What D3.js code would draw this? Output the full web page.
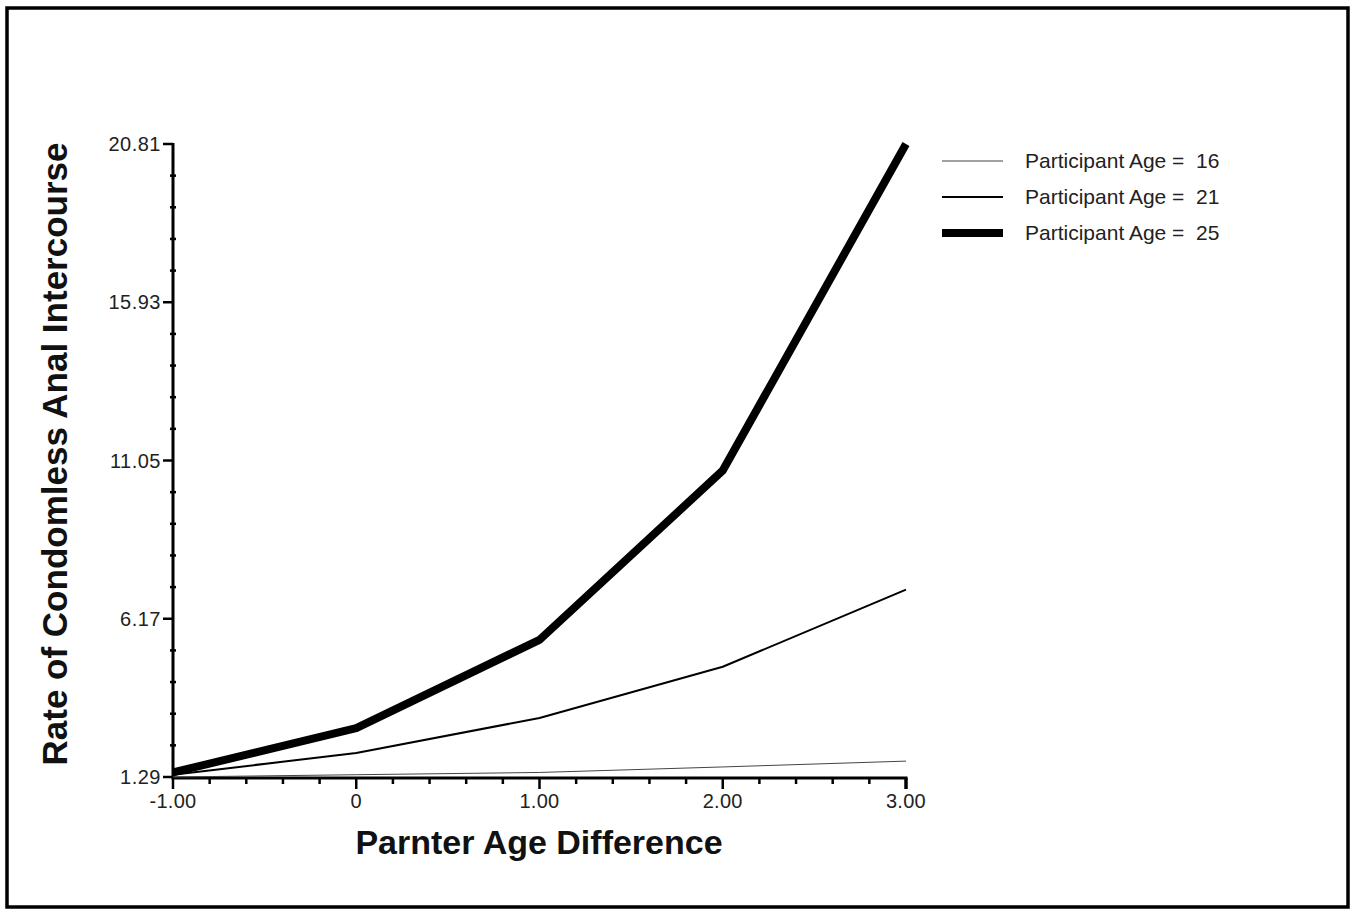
<!DOCTYPE html>
<html>
<head>
<meta charset="utf-8">
<script src="https://cdn.jsdelivr.net/npm/d3@7"></script>
<style>
  html, body { margin: 0; padding: 0; background: #fff; }
  svg { display: block; font-family: "Liberation Sans", Arial, sans-serif; }
</style>
</head>
<body>
<div id="chart"></div>
<script>
"use strict";

// partner age difference (x values)
const ageDiff = [-1, 0, 1, 2, 3];

// predicted rate of condomless anal intercourse for each participant age
const age16 = [1.29, 1.36, 1.43, 1.60, 1.78];
const age21 = [1.36, 2.03, 3.11, 4.69, 7.07];
const age25 = [1.43, 2.80, 5.52, 10.74, 20.81];

const seriesNames = ["Participant Age =  16", "Participant Age =  21", "Participant Age =  25"];
const seriesValues = [age16, age21, age25];
const seriesWidths = [1, 2, 8];
const seriesColors = ["#444", "#000", "#000"];

const yTicks = [1.29, 6.17, 11.05, 15.93, 20.81];
const xTicks = [-1, 0, 1, 2, 3];

const W = 1355;
const H = 910;

const margin = { left: 173, right: 906, top: 144, bottom: 777 };

const svg = d3
  .select("#chart")
  .append("svg")
  .attr("width", W)
  .attr("height", H);

// outer frame
svg
  .append("rect")
  .attr("x", 7)
  .attr("y", 8)
  .attr("width", 1341)
  .attr("height", 899)
  .attr("fill", "none")
  .attr("stroke", "#000")
  .attr("stroke-width", 3.5);

const xScale = d3.scaleLinear().domain([-1, 3]).range([margin.left, margin.right]);
const yScale = d3.scaleLinear().domain([1.29, 20.81]).range([margin.bottom, margin.top]);

// minor ticks: 4 between each pair of majors
function minorTicks(majors) {
  let out = [];
  for (let i = 0; i < majors.length - 1; i++) {
    let step = (majors[i + 1] - majors[i]) / 5;
    for (let k = 1; k < 5; k++) out.push(majors[i] + step * k);
  }
  return out;
}

// y axis
const yAxis = svg.append("g").attr("transform", `translate(${margin.left},0)`);
yAxis
  .append("line")
  .attr("x1", 0)
  .attr("x2", 0)
  .attr("y1", yScale(20.81) - 1)
  .attr("y2", yScale(1.29) + 1.5)
  .attr("stroke", "#000")
  .attr("stroke-width", 3);
yAxis
  .selectAll(".ymajor")
  .data(yTicks)
  .enter()
  .append("line")
  .attr("x1", -10)
  .attr("x2", 0)
  .attr("y1", (d) => yScale(d))
  .attr("y2", (d) => yScale(d))
  .attr("stroke", "#000")
  .attr("stroke-width", 2.5);
yAxis
  .selectAll(".yminor")
  .data(minorTicks(yTicks))
  .enter()
  .append("line")
  .attr("x1", -3)
  .attr("x2", 3)
  .attr("y1", (d) => yScale(d))
  .attr("y2", (d) => yScale(d))
  .attr("stroke", "#000")
  .attr("stroke-width", 2.5);
yAxis
  .selectAll("text")
  .data(yTicks)
  .enter()
  .append("text")
  .attr("x", -12)
  .attr("y", (d) => yScale(d))
  .attr("dy", "0.35em")
  .attr("text-anchor", "end")
  .attr("font-size", 20)
  .attr("letter-spacing", 0.5)
  .attr("fill", "#222")
  .text((d) => d.toFixed(2));

// x axis
const xAxis = svg.append("g").attr("transform", `translate(0,${margin.bottom + 1})`);
xAxis
  .append("line")
  .attr("x1", xScale(-1) - 1.5)
  .attr("x2", xScale(3) + 1.5)
  .attr("y1", 0)
  .attr("y2", 0)
  .attr("stroke", "#000")
  .attr("stroke-width", 3);
xAxis
  .selectAll(".xmajor")
  .data(xTicks)
  .enter()
  .append("line")
  .attr("x1", (d) => xScale(d))
  .attr("x2", (d) => xScale(d))
  .attr("y1", 0)
  .attr("y2", 11)
  .attr("stroke", "#000")
  .attr("stroke-width", (d) => (d === 3 ? 3.5 : 2.5));
xAxis
  .selectAll(".xminor")
  .data(minorTicks(xTicks))
  .enter()
  .append("line")
  .attr("x1", (d) => xScale(d))
  .attr("x2", (d) => xScale(d))
  .attr("y1", 0)
  .attr("y2", 6)
  .attr("stroke", "#000")
  .attr("stroke-width", 2.5);
xAxis
  .selectAll("text")
  .data(xTicks)
  .enter()
  .append("text")
  .attr("x", (d) => xScale(d))
  .attr("y", 30)
  .attr("text-anchor", "middle")
  .attr("font-size", 20)
  .attr("letter-spacing", 0.3)
  .attr("fill", "#222")
  .text((d) => (d === 0 ? "0" : d.toFixed(2)));

// axis titles
svg
  .append("text")
  .attr("x", 539)
  .attr("y", 854)
  .attr("text-anchor", "middle")
  .attr("font-size", 34)
  .attr("font-weight", "bold")
  .attr("fill", "#111")
  .text("Parnter Age Difference");

svg
  .append("text")
  .attr("transform", "translate(67,454) rotate(-90)")
  .attr("text-anchor", "middle")
  .attr("font-size", 35)
  .attr("font-weight", "bold")
  .attr("fill", "#111")
  .text("Rate of Condomless Anal Intercourse");

// lines
const line = d3
  .line()
  .x((d, i) => xScale(ageDiff[i]))
  .y((d) => yScale(d));

svg
  .append("g")
  .selectAll("path")
  .data(seriesValues)
  .enter()
  .append("path")
  .attr("d", line)
  .attr("fill", "none")
  .attr("stroke", (d, i) => seriesColors[i])
  .attr("stroke-width", (d, i) => seriesWidths[i])
  .attr("stroke-linejoin", "round");

// legend
const legend = svg.append("g").attr("transform", "translate(942,161)");
const items = legend
  .selectAll("g")
  .data(seriesNames)
  .enter()
  .append("g")
  .attr("transform", (d, i) => `translate(0,${i * 36})`);
items
  .append("line")
  .attr("x1", 0)
  .attr("x2", 61)
  .attr("y1", 0)
  .attr("y2", 0)
  .attr("stroke", (d, i) => seriesColors[i])
  .attr("stroke-width", (d, i) => seriesWidths[i]);
items
  .append("text")
  .attr("x", 83)
  .attr("dy", "0.35em")
  .attr("font-size", 21)
  .attr("fill", "#222")
  .style("white-space", "pre")
  .text((d) => d);
</script>
</body>
</html>
